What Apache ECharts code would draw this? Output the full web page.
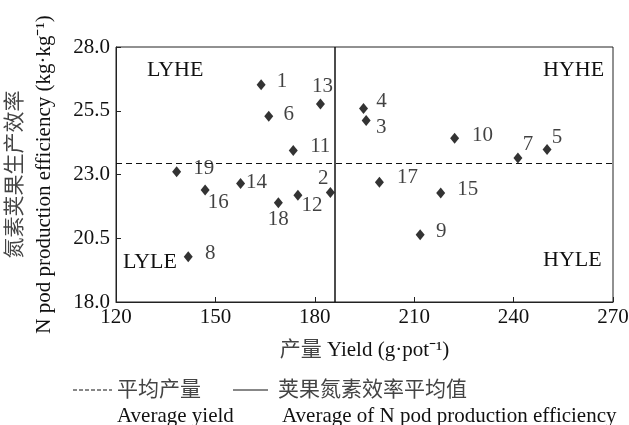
<!DOCTYPE html>
<html lang="zh">
<head>
    <meta charset="UTF-8">
    <title>Yield vs N pod production efficiency</title>
    <script type="text/javascript" src="https://cdn.jsdelivr.net/npm/echarts@6/dist/echarts.min.js"></script>
</head>
<body style="margin:0;">

    <div id="chart" style="width:629px;height:425px;"></div>

<script type="text/javascript">

    // cultivar numbers, yield (g/pot), N pod production efficiency (kg/kg)
    var names = ['1', '2', '3', '4', '5', '6', '7', '8', '9', '10', '11', '12', '13', '14', '15', '16', '17', '18', '19'];
    var yields = [163.8, 184.7, 195.5, 194.7, 250.1, 166.1, 241.3, 141.8, 211.8, 222.2, 173.5, 174.9, 181.7, 157.6, 218.0, 146.9, 199.5, 169.0, 138.3];
    var effs = [26.52, 22.29, 25.12, 25.59, 23.98, 25.28, 23.65, 19.77, 20.64, 24.42, 23.94, 22.19, 25.76, 22.65, 22.27, 22.39, 22.70, 21.89, 23.11];

    var meanYield = 186.0;   // vertical solid line
    var meanEff = 23.43;     // horizontal dashed line

    var xTicks = [120, 150, 180, 210, 240, 270];
    var yTicks = [18.0, 20.5, 23.0, 25.5, 28.0];

    // where each point number sits relative to its marker (px)
    var labelOffset = {
        '1': [21, -3], '2': [-7, -14], '3': [15, 7], '4': [18, -7], '5': [10, -12],
        '6': [20, -2], '7': [10, -13], '8': [22, -3], '9': [21, -3], '10': [28, -3],
        '11': [27, -4], '12': [14, 10], '13': [2, -18], '14': [16, -1], '15': [27, -4],
        '16': [13, 12], '17': [28, -5], '18': [0, 17], '19': [27, -3]
    };

    var serif = '"Liberation Serif", "Noto Sans CJK SC", serif';
    var fs = 21;
    var cnColor = '#444';

    var points = [];
    for (var i = 0; i < names.length; i++) {
        points.push({
            name: names[i],
            value: [yields[i], effs[i]],
            label: { offset: labelOffset[names[i]] }
        });
    }

    var dom = document.getElementById("chart");
    var myChart = echarts.init(dom);

    var option = {
        animation: false,
        backgroundColor: '#fff',
        textStyle: { fontFamily: serif, color: '#111' },
        grid: {
            left: 116, right: 16, top: 47, bottom: 123,
            outerBoundsMode: 'none',
            show: true, borderColor: '#222', borderWidth: 1
        },
        xAxis: {
            type: 'value',
            min: xTicks[0], max: xTicks[xTicks.length - 1], interval: 30,
            name: '{cn|产量} Yield (g·pot⁻¹)',
            nameLocation: 'middle', nameGap: 38, nameMoveOverlap: false,
            nameTextStyle: {
                fontFamily: serif, fontSize: fs, color: '#111',
                rich: { cn: { fontFamily: serif, fontSize: fs, color: cnColor } }
            },
            axisLine: { lineStyle: { color: '#222', width: 1 } },
            axisTick: { inside: true, length: 5, lineStyle: { color: '#222' } },
            axisLabel: { fontFamily: serif, fontSize: fs, color: '#111', margin: 5 },
            splitLine: { show: false }
        },
        yAxis: {
            type: 'value',
            min: yTicks[0], max: yTicks[yTicks.length - 1], interval: 2.5,
            name: '{cn|氮素荚果生产效率}\n{en|N pod production efficiency (kg·kg⁻¹)}',
            nameLocation: 'middle', nameGap: 57, nameMoveOverlap: false,
            nameTextStyle: {
                fontFamily: serif, fontSize: fs, color: '#111', lineHeight: 29,
                rich: {
                    cn: { fontFamily: serif, fontSize: fs, color: cnColor, lineHeight: 29 },
                    en: { fontFamily: serif, fontSize: fs, color: '#111', lineHeight: 29 }
                }
            },
            axisLine: { lineStyle: { color: '#222', width: 1 } },
            axisTick: { inside: true, length: 5, lineStyle: { color: '#222' } },
            axisLabel: {
                fontFamily: serif, fontSize: fs, color: '#111', margin: 6,
                formatter: function (v) { return v.toFixed(1); }
            },
            splitLine: { show: false }
        },
        series: [{
            type: 'scatter',
            symbol: 'diamond',
            symbolSize: [9, 11],
            itemStyle: { color: '#000' },
            label: {
                show: true,
                position: 'inside',
                align: 'center',
                verticalAlign: 'middle',
                formatter: '{b}',
                fontFamily: serif, fontSize: fs, color: '#111'
            },
            data: points,
            markLine: {
                silent: true,
                symbol: 'none',
                label: { show: false },
                data: [
                    { yAxis: meanEff, lineStyle: { type: [6, 4], color: '#111', width: 1 } },
                    { xAxis: meanYield, lineStyle: { type: 'solid', color: '#111', width: 1.5 } }
                ]
            }
        }],
        graphic: [
            { type: 'text', left: 147, top: 59, style: { text: 'LYHE', font: '22px ' + serif, fill: '#111' } },
            { type: 'text', left: 543, top: 59, style: { text: 'HYHE', font: '22px ' + serif, fill: '#111' } },
            { type: 'text', left: 123, top: 251, style: { text: 'LYLE', font: '22px ' + serif, fill: '#111' } },
            { type: 'text', left: 543, top: 249, style: { text: 'HYLE', font: '22px ' + serif, fill: '#111' } },
            // legend
            { type: 'line', shape: { x1: 73, y1: 390, x2: 112, y2: 390 }, style: { stroke: '#111', lineWidth: 1, lineDash: [4, 2] } },
            { type: 'text', left: 117, top: 380, style: { text: '平均产量', font: fs + 'px ' + serif, fill: cnColor } },
            { type: 'line', shape: { x1: 233, y1: 390, x2: 268, y2: 390 }, style: { stroke: '#111', lineWidth: 1 } },
            { type: 'text', left: 278, top: 380, style: { text: '荚果氮素效率平均值', font: fs + 'px ' + serif, fill: cnColor } },
            { type: 'text', left: 117, top: 406, style: { text: 'Average yield', font: fs + 'px ' + serif, fill: '#111' } },
            { type: 'text', left: 282, top: 406, style: { text: 'Average of N pod production efficiency', font: fs + 'px ' + serif, fill: '#111' } }
        ]
    };

    if (option && typeof option === "object") {
        myChart.setOption(option, true);
    }

</script>
</body>
</html>
